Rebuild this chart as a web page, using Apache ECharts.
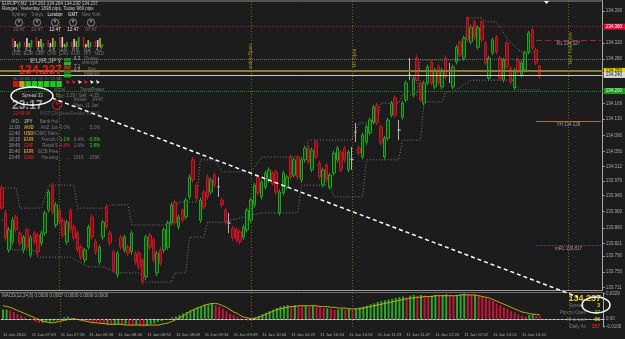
<!DOCTYPE html>
<html>
<head>
<meta charset="utf-8">
<script src="https://cdn.jsdelivr.net/npm/echarts@6/dist/echarts.min.js"></script>
<style>
  html, body { margin: 0; padding: 0; background: #1c1c1c; }
  #chart { width: 625px; height: 339px; }
</style>
</head>
<body>
<div id="chart"></div>
<script>
// EURJPY M2 bars
const opens = [
  133.959, 133.897, 133.805, 133.825, 133.887, 133.847, 133.805, 133.855, 133.792, 133.847,
  133.842, 133.822, 133.847, 133.904, 133.966, 133.867, 133.904, 133.879, 133.825, 133.904,
  133.862, 133.847, 133.812, 133.780, 133.812, 133.887, 133.825, 133.775, 133.837, 133.912,
  133.847, 133.800, 133.743, 133.837, 133.805, 133.812, 133.800, 133.797, 133.797, 133.780,
  133.738, 133.842, 133.830, 133.748, 133.805, 133.805, 133.812, 133.872, 133.924, 133.862,
  133.904, 133.887, 133.937, 134.029, 133.966, 133.879, 133.949, 133.986, 133.949, 133.991,
  133.962, 133.929, 133.904, 133.872, 133.859, 133.855, 133.850, 133.837, 133.855, 133.879,
  133.917, 133.986, 133.937, 133.961, 133.979, 133.996, 133.999, 133.897, 133.947, 133.961,
  134.036, 133.991, 134.036, 133.979, 134.029, 134.058, 134.004, 134.073, 134.021, 133.966,
  134.016, 133.961, 133.996, 134.029, 134.048, 134.058, 134.004, 134.030, 134.098, 134.058,
  134.036, 134.073, 134.096, 134.123, 134.165, 134.111, 134.036, 134.083, 134.140, 134.183,
  134.103, 134.135, 134.178, 134.240, 134.190, 134.282, 134.220, 134.170, 134.220, 134.272,
  134.210, 134.260, 134.210, 134.282, 134.250, 134.210, 134.272, 134.322, 134.282, 134.382,
  134.322, 134.372, 134.309, 134.372, 134.319, 134.232, 134.295, 134.334, 134.282, 134.227,
  134.319, 134.257, 134.208, 134.277, 134.240, 134.252, 134.297, 134.352, 134.302, 134.263
];
const closes = [
  133.909, 133.835, 133.855, 133.879, 133.855, 133.822, 133.837, 133.812, 133.835, 133.825,
  133.800, 133.847, 133.897, 133.949, 133.899, 133.917, 133.874, 133.842, 133.874, 133.855,
  133.835, 133.805, 133.787, 133.805, 133.862, 133.837, 133.800, 133.812, 133.874, 133.862,
  133.822, 133.755, 133.797, 133.812, 133.837, 133.797, 133.847, 133.775, 133.763, 133.725,
  133.837, 133.812, 133.780, 133.797, 133.772, 133.855, 133.872, 133.917, 133.872, 133.887,
  133.879, 133.929, 133.986, 133.979, 133.934, 133.929, 133.912, 133.937, 133.979, 133.966,
  133.962, 133.917, 133.874, 133.872, 133.835, 133.830, 133.825, 133.862, 133.904, 133.929,
  133.966, 133.947, 133.974, 133.996, 134.004, 133.971, 133.949, 133.949, 133.996, 133.986,
  133.986, 134.029, 133.986, 134.029, 134.058, 134.024, 134.053, 134.036, 133.986, 134.004,
  133.979, 133.991, 134.046, 134.058, 134.004, 134.029, 134.048, 134.030, 134.098, 134.046,
  134.091, 134.111, 134.128, 134.160, 134.121, 134.071, 134.083, 134.128, 134.170, 134.140,
  134.103, 134.170, 134.220, 134.240, 134.232, 134.227, 134.178, 134.220, 134.260, 134.220,
  134.252, 134.220, 134.252, 134.235, 134.250, 134.260, 134.309, 134.290, 134.332, 134.327,
  134.359, 134.332, 134.357, 134.327, 134.270, 134.282, 134.327, 134.297, 134.232, 134.277,
  134.260, 134.222, 134.252, 134.247, 134.270, 134.295, 134.344, 134.307, 134.270, 134.237
];
const lows = [
  133.904, 133.828, 133.798, 133.818, 133.848, 133.815, 133.797, 133.806, 133.785, 133.818,
  133.790, 133.815, 133.840, 133.898, 133.893, 133.860, 133.868, 133.835, 133.818, 133.848,
  133.828, 133.798, 133.780, 133.772, 133.806, 133.830, 133.793, 133.768, 133.830, 133.855,
  133.815, 133.748, 133.736, 133.806, 133.798, 133.790, 133.793, 133.768, 133.756, 133.718,
  133.731, 133.805, 133.773, 133.740, 133.765, 133.798, 133.805, 133.866, 133.866, 133.855,
  133.872, 133.880, 133.930, 133.972, 133.927, 133.872, 133.905, 133.930, 133.942, 133.960,
  133.937, 133.910, 133.868, 133.847, 133.828, 133.823, 133.818, 133.830, 133.848, 133.872,
  133.910, 133.940, 133.930, 133.955, 133.972, 133.965, 133.942, 133.890, 133.940, 133.955,
  133.980, 133.985, 133.980, 133.972, 134.022, 134.018, 133.998, 134.030, 133.980, 133.960,
  133.972, 133.955, 133.990, 134.022, 133.998, 134.022, 133.998, 134.004, 134.073, 134.040,
  134.030, 134.066, 134.090, 134.117, 134.115, 134.065, 134.030, 134.076, 134.134, 134.134,
  134.078, 134.129, 134.172, 134.227, 134.184, 134.221, 134.172, 134.164, 134.214, 134.214,
  134.204, 134.214, 134.204, 134.229, 134.220, 134.204, 134.266, 134.284, 134.276, 134.321,
  134.316, 134.326, 134.303, 134.321, 134.264, 134.226, 134.289, 134.291, 134.226, 134.221,
  134.254, 134.216, 134.202, 134.241, 134.234, 134.246, 134.291, 134.301, 134.264, 134.230
];
const highs = [
  133.966, 133.905, 133.862, 133.887, 133.893, 133.852, 133.842, 133.860, 133.842, 133.852,
  133.848, 133.853, 133.903, 133.955, 133.971, 133.924, 133.912, 133.886, 133.880, 133.910,
  133.868, 133.853, 133.818, 133.810, 133.868, 133.893, 133.832, 133.818, 133.880, 133.919,
  133.853, 133.806, 133.803, 133.843, 133.843, 133.818, 133.853, 133.803, 133.803, 133.786,
  133.843, 133.848, 133.836, 133.803, 133.812, 133.861, 133.878, 133.923, 133.930, 133.893,
  133.910, 133.935, 133.993, 134.036, 133.972, 133.935, 133.955, 133.993, 133.985, 133.998,
  133.986, 133.935, 133.910, 133.897, 133.865, 133.861, 133.856, 133.868, 133.910, 133.935,
  133.972, 133.992, 133.980, 134.002, 134.010, 134.002, 134.005, 133.955, 134.002, 133.992,
  134.042, 134.035, 134.042, 134.035, 134.064, 134.064, 134.059, 134.080, 134.027, 134.010,
  134.022, 133.997, 134.052, 134.064, 134.054, 134.064, 134.054, 134.061, 134.121, 134.064,
  134.097, 134.117, 134.134, 134.166, 134.171, 134.117, 134.089, 134.134, 134.176, 134.189,
  134.128, 134.176, 134.226, 134.282, 134.238, 134.290, 134.226, 134.226, 134.266, 134.278,
  134.258, 134.266, 134.258, 134.288, 134.270, 134.266, 134.315, 134.328, 134.338, 134.386,
  134.365, 134.378, 134.363, 134.378, 134.325, 134.288, 134.333, 134.340, 134.288, 134.283,
  134.325, 134.263, 134.258, 134.283, 134.276, 134.301, 134.350, 134.358, 134.308, 134.264
];

// grey dotted price channel, [bar, price]
const upperBand = [
  [0, 133.959], [4, 133.959], [5, 133.909], [11, 133.909], [13, 133.966], [20, 133.966],
  [21, 133.909], [29, 133.909], [30, 133.917], [35, 133.917], [36, 133.867], [46, 133.867],
  [49, 133.924], [54, 133.924], [55, 134.029], [59, 134.029], [61, 133.999], [69, 133.999],
  [72, 134.036], [84, 134.036], [85, 134.078], [97, 134.078], [99, 134.121], [104, 134.121],
  [105, 134.170], [110, 134.170], [111, 134.190], [115, 134.190], [116, 134.277], [128, 134.277],
  [129, 134.382], [133, 134.382], [134, 134.372], [137, 134.372], [141, 134.319], [144, 134.297],
  [149, 134.297]
];
const lowerBand = [
  [0, 133.879], [1, 133.879], [3, 133.805], [9, 133.805], [10, 133.787], [19, 133.787],
  [24, 133.763], [28, 133.763], [32, 133.748], [38, 133.748], [40, 133.725], [47, 133.725],
  [48, 133.748], [51, 133.748], [52, 133.837], [56, 133.837], [57, 133.874], [61, 133.874],
  [72, 133.897], [82, 133.897], [83, 133.966], [91, 133.966], [92, 133.937], [100, 133.937],
  [101, 134.029], [110, 134.029], [111, 134.078], [116, 134.078], [117, 134.173], [122, 134.173],
  [123, 134.198], [125, 134.198], [130, 134.227], [142, 134.227], [143, 134.203], [149, 134.203]
];

// MACD(12,24,8), units of 0.001
const macdHist = [
  12, 12, 11, 9, 6, 4, 2, 0, -2, -4,
  -5, -5, -4, -4, -3, -2, -1, 2, 3, 1,
  -1, 0, -1, -2, -3, -4, -5, -6, -7, -7,
  -8, -8, -7, -8, -7, -8, -9, -8, -9, -10,
  -9, -7, -6, -4, -3, -1, 0, 2, 3, 5,
  7, 9, 11, 13, 15, 16, 18, 19, 20, 18,
  16, 13, 10, 7, 5, 3, 1, -1, -2, 0,
  2, 4, 6, 8, 10, 12, 14, 16, 17, 18,
  17, 18, 17, 16, 17, 16, 17, 16, 15, 14,
  14, 13, 12, 12, 13, 12, 13, 12, 13, 15,
  16, 17, 19, 20, 22, 23, 24, 25, 26, 27,
  28, 29, 28, 30, 31, 30, 31, 30, 29, 30,
  31, 30, 31, 32, 31, 30, 31, 32, 33, 32,
  31, 31, 30, 29, 27, 25, 23, 20, 18, 15,
  13, 10, 8, 6, 4, 3, 5, 6, 4, 3
];
const macdSignal = [
  17, 16, 15, 13, 11, 9, 7, 5, 3, 1,
  -1, -3, -4, -5, -5, -4, -3, -2, -1, 0,
  0, -1, -2, -3, -4, -5, -5, -6, -6, -7,
  -7, -7, -7, -7, -8, -8, -8, -8, -8, -8,
  -8, -8, -8, -8, -7, -6, -5, -3, -1, 1,
  4, 7, 10, 12, 14, 16, 18, 19, 20, 20,
  19, 17, 15, 12, 9, 7, 4, 2, 1, 0,
  1, 2, 4, 6, 8, 10, 12, 13, 14, 15,
  16, 16, 17, 17, 17, 17, 17, 17, 16, 16,
  16, 15, 15, 14, 14, 14, 13, 13, 13, 13,
  14, 15, 16, 17, 18, 19, 20, 21, 22, 23,
  24, 25, 26, 27, 27, 28, 28, 29, 29, 29,
  30, 30, 30, 30, 30, 30, 30, 31, 31, 31,
  31, 31, 30, 29, 28, 27, 25, 23, 21, 19,
  17, 15, 13, 11, 9, 8, 7, 6, 6, 5
];

const timeLabels = [
  '11 Jan 2010', '11 Jan 07:09', '11 Jan 07:28', '11 Jan 08:28', '11 Jan 08:40',
  '11 Jan 08:52', '11 Jan 09:08', '11 Jan 09:34', '11 Jan 09:49', '11 Jan 10:04',
  '11 Jan 10:22', '11 Jan 10:34', '11 Jan 10:51', '11 Jan 11:23', '11 Jan 11:47',
  '11 Jan 12:20', '11 Jan 12:52', '11 Jan 13:21', '11 Jan 14:10'
];
const labelEvery = 8;
const priceTicks = [
  134.399, 134.320, 134.280, 134.169, 134.130, 134.090, 134.050, 134.012,
  133.976, 133.940, 133.900, 133.860, 133.821, 133.790, 133.750, 133.711
];
const macdTicks = [0.0329, 0, -0.01];
const separators = [16, 69, 97, 157];

const slots = 167;
const cats = Array.from({ length: slots }, (_, i) => i);
const font = '"Liberation Sans", Arial, sans-serif';

const candles = opens.map((o, i) => [o, closes[i], lows[i], highs[i]]);
const histData = macdHist.map((v, i) => ({
  value: v / 1000,
  itemStyle: { color: i > 0 && v < macdHist[i - 1] ? '#c8143a' : '#29a829' }
}));

function box(bg, fg) {
  return {
    show: true, position: 'end', distance: 1,
    formatter: p => p.value.toFixed(3),
    backgroundColor: bg, color: fg, fontSize: 4.5, fontFamily: font,
    padding: [1, 3, 0, 2]
  };
}
function level(v, color, type, width, bg, fg) {
  return {
    yAxis: v,
    lineStyle: { color, type, width: width || 1 },
    label: bg ? box(bg, fg) : { show: false }
  };
}
function pivot(v, color, type, name) {
  return [
    { coord: [148, v], lineStyle: { color, type, width: 1 },
      label: { show: true, position: 'insideMiddleBottom', distance: 1,
        formatter: name + ' ' + v.toFixed(3), color: '#a0a0a0', fontSize: 4.5, fontFamily: font } },
    { coord: [166, v] }
  ];
}
function vline(i) {
  return { xAxis: i, lineStyle: { color: '#6e6d1c', type: [1, 2], width: 1 }, label: { show: false } };
}

// overlay texts of the info panels
function t(x, y, text, fill, size, weight, align) {
  return {
    type: 'text', x, y, z: 100, silent: true,
    style: {
      text, fill: fill || '#a0a0a0',
      font: (weight || 'normal') + ' ' + (size || 4.5) + 'px ' + font,
      align: align || 'left', verticalAlign: 'middle',
      textAlign: align || 'left', textVerticalAlign: 'middle'
    }
  };
}
function rect(x, y, w, h, fill) {
  return { type: 'rect', z: 99, silent: true, shape: { x, y, width: w, height: h }, style: { fill } };
}
function circle(cx, cy, r, stroke) {
  return { type: 'circle', z: 99, silent: true, shape: { cx, cy, r }, style: { fill: 'none', stroke, lineWidth: 1 } };
}

const cities = ['Sydney', 'Tokyo', 'London', 'GMT', 'New York'];
const cityTimes = ['23:47', '21:47', '12:47', '12:47', '07:47'];
const currencies = ['USD', 'EUR', 'GBP', 'CHF', 'CAD', 'AUD', 'JPY', 'NZD'];
const strength = ['1.5', '6.2', '6.5', '2.8', '2.0', '8.6', '0.2', '4.7'];
const strengthBars = [[9, 6, 3, 5], [5, 9, 4, 7], [10, 6, 8, 4], [7, 4, 9, 6], [9, 10, 3, 5], [5, 8, 6, 10], [10, 3, 7, 5], [6, 7, 9, 3]];
const barColors = ['#b81c28', '#d0d0d0', '#b8b020', '#28a028'];
const news = [
  ['AID.', 'JPY', 'Bank Hol', '', '', '', '#a0a0a0'],
  ['11:00', 'AUD', 'ANZ Job', '6.0%', '...', '5.2%', '#e0a020'],
  ['12:40', 'USD', 'FOMC Mem', '', '', '', '#e0a020'],
  ['18:15', 'EUR', 'French I', '1.1%', '0.4%', '-0.8%', '#e0a020'],
  ['18:45', 'CHF', 'Retail S', '0.8%', '1.0%', '3.8%', '#d02030'],
  ['20:40', 'EUR', 'ECB Pres', '', '', '', '#e0a020'],
  ['23:45', 'CAD', 'Housing', '...', '161K', '159K', '#d02030']
];
const newsColors = {
  '1.1%': '#30d030', '-0.8%': '#30d030', '0.8%': '#e02030', '3.8%': '#30d030'
};

const g = [];
g.push({ type: 'line', z: 90, silent: true, shape: { x1: 0, y1: 1, x2: 603, y2: 1 }, style: { stroke: '#8a8a8a', lineWidth: 1 } });
g.push({ type: 'line', z: 90, silent: true, shape: { x1: 0, y1: 290.5, x2: 603, y2: 290.5 }, style: { stroke: '#9a9a9a', lineWidth: 1 } });
g.push({ type: 'line', z: 90, silent: true, shape: { x1: 0, y1: 292.5, x2: 603, y2: 292.5 }, style: { stroke: '#6a6a6a', lineWidth: 1 } });
g.push(t(2, 4, 'EURJPY,M2  134.263 134.264 134.230 134.237', '#c8c8c8'));
g.push(t(2, 9, 'Ranges: Yesterday 1838 pips, Today 969 pips', '#c8c8c8'));
cities.forEach((c, i) => {
  const cx = 19 + i * 18;
  g.push(t(cx, 15, c, i === 2 || i === 3 ? '#e8e8e8' : '#7a7a7a', 4.5, 'normal', 'center'));
  g.push(circle(cx, 22.5, 3.6, '#8a8a8a'));
  g.push({ type: 'line', z: 99, silent: true, shape: { x1: cx, y1: 22.5, x2: cx, y2: 20 }, style: { stroke: '#d0d0d0', lineWidth: 1 } });
  g.push(t(cx, 30, cityTimes[i], i === 2 || i === 3 ? '#e8e8e8' : '#7a7a7a', 4.5, 'normal', 'center'));
});
currencies.forEach((c, i) => {
  const x0 = 12 + i * 11.8;
  strengthBars[i].forEach((h, k) => g.push(rect(x0 + k * 2.3, 47 - h, 1.6, h, barColors[k])));
  g.push(t(x0 + 4.5, 50, strength[i], '#b0b0b0', 4.5, 'normal', 'center'));
  g.push(t(x0 + 4.5, 54, c, '#7a7a7a', 4.5, 'normal', 'center'));
});
g.push(t(62, 61, 'EURJPY', '#8a8a8a', 8, 'bold', 'right'));
g.push(t(62, 70.5, '134.237', '#f01818', 12, 'bold', 'right'));
[['#1e8c1e', 58], ['#2cb02c', 62], ['#b02020', 66], ['#1e8c1e', 70], ['#2cb02c', 74]].forEach(([c, y]) => g.push(rect(64, y, 7, 3.4, c)));
g.push(t(74, 59, '6.3', '#b0b0b0'));
g.push(t(84, 59, 'Cluster', '#7a7a7a'));
g.push(t(82, 63, 'strength', '#7a7a7a'));
g.push(t(74, 67, '7.1', '#b0b0b0'));
g.push(t(74, 71, '0.2', '#b0b0b0'));
g.push(t(88, 70, 'Pair', '#7a7a7a'));
g.push(t(84, 74, 'balance', '#7a7a7a'));
['M1', 'M5', 'M15', 'H1', 'H4', 'D1', 'W1', 'MN'].forEach((tf, i) => {
  const x0 = 13 + i * 6.2;
  g.push(t(x0 + 2.7, 79, tf, '#6a6a6a', 3.5, 'normal', 'center'));
  g.push(rect(x0, 81, 5.4, 6, i === 0 ? '#c81818' : i === 1 ? '#c8a018' : '#22c822'));
});
[[66, '#d02030'], [72, '#d02030'], [78, '#e0e0e0'], [84, '#d02030'], [90, '#e0e0e0'], [96, '#e0e0e0']].forEach(([x, c]) => {
  g.push({ type: 'polygon', z: 99, silent: true, shape: { points: [[x, 80], [x + 4, 82], [x + 1, 84]] }, style: { fill: c } });
});
g.push(t(80, 90, 'TrendPower', '#7a7a7a'));
g.push(t(22, 96, 'Spread 33', '#c8c8c8'));
g.push(t(54, 90, 'WHal', '#6a6a6a'));
g.push(t(56, 96, 'Buy: 2.29 | Sell: -4.25', '#7a7a7a'));
g.push(t(12, 106, '23:17', '#9a9a9a', 12, 'bold'));
g.push(circle(57, 105, 4.5, '#e02020'));
g.push({ type: 'line', z: 99, silent: true, shape: { x1: 57, y1: 105, x2: 57, y2: 102 }, style: { stroke: '#e02020', lineWidth: 1 } });
g.push(t(74, 100, 'broker', '#7a7a7a'));
g.push(t(92, 100, '14:47', '#7a7a7a'));
g.push(t(74, 106, 'Mon, 11 Jan', '#7a7a7a'));
g.push(t(13, 114, '22:48:04', '#e02020'));
g.push(t(40, 114, 'INSTICN NewsReader v20.81', '#5a5a5a'));
news.forEach((r, k) => {
  const y = 122 + k * 6;
  g.push(t(20, y, r[0], '#9a9a9a', 4.5, 'normal', 'right'));
  g.push(t(24, y, r[1], r[6], 4.5, 'bold'));
  g.push(t(58, y, r[2], '#7a7a7a', 4.5, 'normal', 'right'));
  g.push(t(70, y, r[3], newsColors[r[3]] || '#7a7a7a', 4.5, 'normal', 'right'));
  g.push(t(84, y, r[4], newsColors[r[4]] || '#7a7a7a', 4.5, 'normal', 'right'));
  g.push(t(100, y, r[5], newsColors[r[5]] || '#7a7a7a', 4.5, 'normal', 'right'));
});
g.push(t(2, 296, 'MACD(12,24,8) 0.0000 0.0067 0.0000 0.0090 0.0000', '#a8a8a8'));
// separator captions
[[251, 58, 'London Open'], [355, 58, 'NY Open'], [571, 48, 'New York Close']].forEach(([x, y, s]) => {
  g.push({ type: 'text', x, y, z: 100, rotation: Math.PI / 2, silent: true,
    style: { text: s, fill: '#a0942c', font: '4.5px ' + font, align: 'center', verticalAlign: 'middle',
      textAlign: 'center', textVerticalAlign: 'middle' } });
});
// bottom right panel
g.push(t(601, 299, '134.237', '#e8c820', 9, 'bold', 'right'));
g.push(t(584, 306, 'Spread', '#7a7a7a', 4.5, 'normal', 'right'));
g.push(t(600, 306, '3', '#e8c820', 5, 'bold', 'right'));
g.push(t(586, 313, 'Pips to Open', '#7a7a7a', 4.5, 'normal', 'right'));
g.push(t(600, 313, '37', '#30c830', 5, 'bold', 'right'));
g.push(t(586, 320, 'Hi-to-Low', '#7a7a7a', 4.5, 'normal', 'right'));
g.push(t(600, 320, '96', '#e8c820', 5, 'bold', 'right'));
g.push(t(586, 327, 'Daily Av', '#7a7a7a', 4.5, 'normal', 'right'));
g.push(t(600, 327, '157', '#e02020', 5, 'bold', 'right'));
// annotation drawn on the screenshot
g.push({ type: 'line', z: 110, silent: true, shape: { x1: 52, y1: 98, x2: 578, y2: 297 },
  style: { stroke: '#ffffff', lineWidth: 1.5, lineDash: [4, 3] } });
g.push({ type: 'ellipse', z: 110, silent: true, shape: { cx: 32, cy: 96, rx: 21, ry: 9 },
  style: { fill: 'none', stroke: '#ffffff', lineWidth: 1.5 } });
g.push({ type: 'ellipse', z: 110, silent: true, shape: { cx: 596, cy: 305, rx: 14, ry: 8 },
  style: { fill: 'none', stroke: '#ffffff', lineWidth: 1.5 } });
g.push({ type: 'polygon', z: 110, silent: true, shape: { points: [[544, 1], [549, 1], [546.5, 4]] }, style: { fill: '#ffffff' } });

const chart = echarts.init(document.getElementById('chart'));
chart.setOption({
  backgroundColor: '#1c1c1c',
  animation: false,
  grid: [
    { left: 0, right: 22, top: 0, height: 290 },
    { left: 0, right: 22, top: 293, height: 34 }
  ],
  xAxis: [
    { type: 'category', data: cats, gridIndex: 0, boundaryGap: true,
      axisLine: { show: false }, axisTick: { show: false }, axisLabel: { show: false }, splitLine: { show: false } },
    { type: 'category', data: cats, gridIndex: 1, boundaryGap: true,
      axisLine: { show: true, lineStyle: { color: '#8c8c8c' } },
      axisTick: { show: false },
      axisLabel: {
        interval: i => i % labelEvery === 0 && i / labelEvery < timeLabels.length,
        formatter: v => timeLabels[v / labelEvery] || '',
        color: '#a8a8a8', fontSize: 4.2, fontFamily: font, align: 'left', margin: 6
      },
      splitLine: { show: false } }
  ],
  yAxis: [
    { type: 'value', gridIndex: 0, position: 'right', min: 133.7054, max: 134.4263,
      axisLine: { show: true, lineStyle: { color: '#a8a8a8' } },
      axisTick: { show: true, customValues: priceTicks, length: 2, lineStyle: { color: '#a8a8a8' } },
      axisLabel: { customValues: priceTicks, formatter: v => v.toFixed(3), color: '#a8a8a8', fontSize: 4.5, fontFamily: font, margin: 3 },
      splitLine: { show: false } },
    { type: 'value', gridIndex: 1, position: 'right', min: -0.0105, max: 0.0335,
      axisLine: { show: true, lineStyle: { color: '#a8a8a8' } },
      axisTick: { show: true, customValues: macdTicks, length: 2, lineStyle: { color: '#a8a8a8' } },
      axisLabel: { customValues: macdTicks, formatter: v => v === 0 ? '0.00' : v.toFixed(4), color: '#a8a8a8', fontSize: 4.5, fontFamily: font, margin: 3 },
      splitLine: { show: false } }
  ],
  graphic: g,
  series: [
    {
      type: 'candlestick', xAxisIndex: 0, yAxisIndex: 0, data: candles, barWidth: 3,
      itemStyle: { color: '#0f4a0f', color0: '#7a1018', borderColor: '#27a027', borderColor0: '#c01828', borderColorDoji: '#b0b0b0', borderWidth: 1 },
      markLine: {
        silent: true, symbol: ['none', 'none'], animation: false,
        data: [
          level(134.358, '#a01c30', 'dotted', 1, '#e0103c', '#ffffff'),
          level(134.285, '#6e6e6e', 'dotted', 1),
          level(134.251, '#8e7e26', 'solid', 2, '#e8d000', '#1c1c1c'),
          level(134.237, '#c8c8c8', 'solid', 1, '#d8d8d8', '#1c1c1c'),
          level(134.201, '#1a8c1a', 'dotted', 1, '#1e9a1e', '#d8ffd8'),
          pivot(134.327, '#b02030', [6, 3], 'R1'),
          pivot(134.126, '#b06a3a', 'solid', 'YH'),
          pivot(133.817, '#8a2a8a', 'dotted', 'mR1'),
          ...separators.map(vline)
        ]
      }
    },
    { type: 'line', xAxisIndex: 0, yAxisIndex: 0, data: upperBand, symbol: 'none',
      lineStyle: { color: '#7e7e7e', width: 1, type: [1, 2] }, z: 1 },
    { type: 'line', xAxisIndex: 0, yAxisIndex: 0, data: lowerBand, symbol: 'none',
      lineStyle: { color: '#7e7e7e', width: 1, type: [1, 2] }, z: 1 },
    {
      type: 'bar', xAxisIndex: 1, yAxisIndex: 1, data: histData, barWidth: 2,
      markLine: {
        silent: true, symbol: ['none', 'none'], animation: false,
        data: [
          { yAxis: 0, lineStyle: { color: '#d0d0d0', type: [2, 2], width: 1 }, label: { show: false } },
          ...separators.map(vline)
        ]
      }
    },
    { type: 'line', xAxisIndex: 1, yAxisIndex: 1, data: macdSignal.map(v => v / 1000), symbol: 'none',
      lineStyle: { color: '#c8a810', width: 1 } }
  ]
});
</script>
</body>
</html>
